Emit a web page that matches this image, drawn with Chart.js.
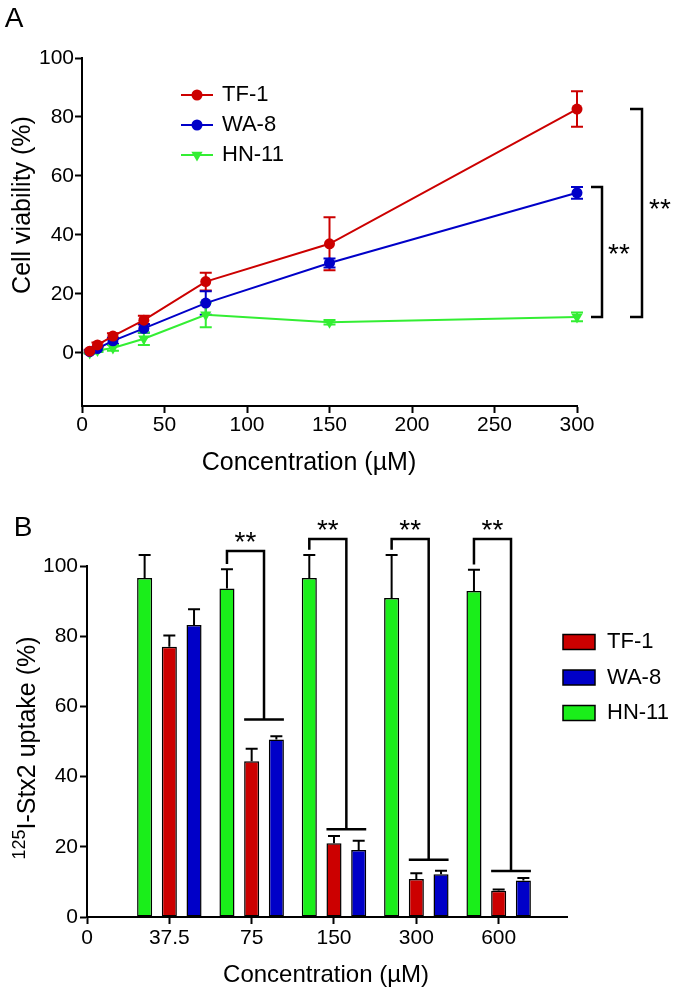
<!DOCTYPE html>
<html>
<head>
<meta charset="utf-8">
<script src="https://cdn.jsdelivr.net/npm/chart.js@4.4.0/dist/chart.umd.min.js"></script>
<style>
body{margin:0;background:#fff;}
#wrap{position:relative;width:675px;height:992px;}
.panel{position:absolute;left:0;width:675px;}
</style>
</head>
<body>
<div id="wrap">
	<div class="panel" style="top:0;height:480px"><canvas id="chartA" width="675" height="480"></canvas></div>
	<div class="panel" style="top:480px;height:512px"><canvas id="chartB" width="675" height="512"></canvas></div>
</div>
<script>
// panel A: cell viability vs concentration
var concA = [4.69, 9.375, 18.75, 37.5, 75, 150, 300];
var tf1A = [0.6, 2.7, 5.7, 11.1, 24.2, 37, 82.7];
var tf1AErr = [0.5, 0.8, 1, 1.5, 3, 9, 6];
var wa8A = [0.4, 1.5, 4.1, 8.3, 16.9, 30.5, 54.3];
var wa8AErr = [0.4, 0.6, 1, 1.5, 4, 1.5, 2];
var hn11A = [0, 0.8, 1.7, 4.8, 12.9, 10.4, 12.2];
var hn11AErr = [0.3, 0.5, 1, 2.1, 4.2, 0.8, 1.5];
var xTicksA = [0, 50, 100, 150, 200, 250, 300];
var yTicksA = [0, 20, 40, 60, 80, 100];

// panel B: 125I-Stx2 uptake, groups 37.5 .. 600
var concLabelsB = ['0', '37.5', '75', '150', '300', '600'];
var groupB = [1, 2, 3, 4, 5];
var hn11B = [96.6, 93.6, 96.6, 90.9, 92.9];
var hn11BErr = [6.5, 5.5, 6.5, 12.2, 6];
var tf1B = [77, 44.4, 21, 10.8, 7.5];
var tf1BErr = [3.2, 3.5, 2.1, 1.7, 0.3];
var wa8B = [83.2, 50.6, 19.1, 12.2, 10.4];
var wa8BErr = [4.5, 0.9, 2.6, 1, 0.7];
var yTicksB = [0, 20, 40, 60, 80, 100];
// significance brackets (groups 75..600): top of bracket and the bar over TF-1/WA-8
var sigTopB = [104.3, 107.7, 107.7, 107.7];
var sigLowB = [56.3, 25, 16.3, 13.1];

var FONT = "'Liberation Sans', Arial, Helvetica, sans-serif";
Chart.defaults.font.family = FONT;
Chart.defaults.color = '#000';

var red = '#cc0000', blue = '#0000c8', greenLine = '#33ee33', greenBar = '#1aee1a';

function pts(xs, ys) {
	return xs.map(function(x, i) { return {x: x, y: ys[i]}; });
}

var gridOpts = {display: true, drawOnChartArea: false, drawTicks: true, tickLength: 7, tickWidth: 2, tickColor: '#000'};
var borderOpts = {display: true, color: '#000', width: 2};

function rotText(ctx, txt, x, y) {
	ctx.save();
	ctx.translate(x, y);
	ctx.rotate(-Math.PI / 2);
	ctx.textAlign = 'center';
	ctx.textBaseline = 'middle';
	ctx.fillText(txt, 0, 0);
	ctx.restore();
}

function stars(ctx, x, y, size) {
	// asterisks sit high in the em box, so push the baseline down
	ctx.save();
	ctx.font = size + 'px ' + FONT;
	ctx.textAlign = 'center';
	ctx.textBaseline = 'alphabetic';
	ctx.fillStyle = '#000';
	ctx.fillText('**', x, y + size * 0.57);
	ctx.restore();
}

// ---------- panel A ----------
var errorBarsA = {
	id: 'errorBarsA',
	beforeDatasetsDraw: function(chart) {
		var ctx = chart.ctx, ys = chart.scales.y;
		chart.data.datasets.forEach(function(ds, i) {
			var meta = chart.getDatasetMeta(i);
			ctx.save();
			ctx.strokeStyle = ds.borderColor;
			ctx.lineWidth = 2;
			meta.data.forEach(function(pt, j) {
				var v = ds.data[j].y, e = ds.errors[j];
				var t = ys.getPixelForValue(v + e), b = ys.getPixelForValue(v - e);
				ctx.beginPath();
				ctx.moveTo(pt.x, t); ctx.lineTo(pt.x, b);
				ctx.moveTo(pt.x - 6, t); ctx.lineTo(pt.x + 6, t);
				ctx.moveTo(pt.x - 6, b); ctx.lineTo(pt.x + 6, b);
				ctx.stroke();
			});
			ctx.restore();
		});
	}
};

var annotA = {
	id: 'annotA',
	afterDraw: function(chart) {
		var ctx = chart.ctx, ca = chart.chartArea, xs = chart.scales.x, ys = chart.scales.y;
		ctx.save();
		ctx.fillStyle = '#000';
		ctx.font = '28px ' + FONT;
		ctx.textAlign = 'center';
		ctx.textBaseline = 'middle';
		ctx.fillText('A', 14, 19);
		ctx.font = '25px ' + FONT;
		rotText(ctx, 'Cell viability (%)', 23, 205);
		ctx.fillText('Concentration (\u00b5M)', 309, 463);

		// legend
		var lx = ca.left + 99, ly = ca.top + 37;
		chart.data.datasets.forEach(function(ds, i) {
			var y = ly + i * 30;
			ctx.strokeStyle = ds.borderColor;
			ctx.lineWidth = 2;
			ctx.beginPath(); ctx.moveTo(lx, y); ctx.lineTo(lx + 32, y); ctx.stroke();
			ctx.fillStyle = ds.pointBackgroundColor;
			Chart.helpers.drawPoint(ctx, {pointStyle: ds.pointStyle, rotation: ds.pointRotation || 0, radius: ds.pointRadius, borderWidth: 0}, lx + 16, y);
			ctx.fillStyle = '#000';
			ctx.font = '22px ' + FONT;
			ctx.textAlign = 'left';
			ctx.fillText(ds.label, lx + 41, y);
		});

		// brackets at 300 uM
		var x300 = xs.getPixelForValue(concA[6]);
		ctx.strokeStyle = '#000';
		ctx.lineWidth = 2.5;
		var b1x = x300 + 25, b1t = ys.getPixelForValue(wa8A[6] + wa8AErr[6]), b1b = ys.getPixelForValue(hn11A[6]);
		ctx.beginPath();
		ctx.moveTo(b1x - 11, b1t); ctx.lineTo(b1x, b1t); ctx.lineTo(b1x, b1b); ctx.lineTo(b1x - 11, b1b);
		ctx.stroke();
		stars(ctx, b1x + 17, (b1t + b1b) / 2 - 5, 28);
		var b2x = x300 + 65, b2t = ys.getPixelForValue(tf1A[6]), b2b = ys.getPixelForValue(hn11A[6]);
		ctx.beginPath();
		ctx.moveTo(b2x - 12, b2t); ctx.lineTo(b2x, b2t); ctx.lineTo(b2x, b2b); ctx.lineTo(b2x - 12, b2b);
		ctx.stroke();
		stars(ctx, b2x + 18, (b2t + b2b) / 2 - 11, 28);
		ctx.restore();
	}
};

function lineSet(label, xs, ys, errs, color, style) {
	return {
		label: label,
		data: pts(xs, ys),
		errors: errs,
		borderColor: color,
		backgroundColor: color,
		pointBackgroundColor: color,
		pointBorderColor: color,
		pointBorderWidth: 0,
		pointStyle: style,
		pointRotation: style == 'triangle' ? 180 : 0,
		pointRadius: style == 'triangle' ? 6.5 : 5.5,
		borderWidth: 2,
		tension: 0,
		clip: false
	};
}

new Chart(document.getElementById('chartA'), {
	type: 'line',
	data: {
		datasets: [
			lineSet('TF-1', concA, tf1A, tf1AErr, red, 'circle'),
			lineSet('WA-8', concA, wa8A, wa8AErr, blue, 'circle'),
			lineSet('HN-11', concA, hn11A, hn11AErr, greenLine, 'triangle')
		]
	},
	options: {
		responsive: false,
		animation: false,
		layout: {padding: {top: 58, right: 98, left: 0, bottom: 0}},
		plugins: {legend: {display: false}, tooltip: {enabled: false}},
		scales: {
			x: {
				type: 'linear', min: 0, max: 300,
				afterBuildTicks: function(s) { s.ticks = xTicksA.map(function(v) { return {value: v}; }); },
				afterFit: function(s) { s.height = 74; },
				ticks: {font: {size: 21}, padding: 0, maxRotation: 0, autoSkip: false},
				grid: gridOpts, border: borderOpts
			},
			y: {
				min: -18, max: 100,
				afterBuildTicks: function(s) { s.ticks = yTicksA.map(function(v) { return {value: v}; }); },
				afterFit: function(s) { s.width = 82; },
				ticks: {font: {size: 21}, padding: 1},
				grid: gridOpts, border: borderOpts
			}
		}
	},
	plugins: [errorBarsA, annotA]
});

// ---------- panel B ----------
var errorBarsB = {
	id: 'errorBarsB',
	afterDatasetsDraw: function(chart) {
		var ctx = chart.ctx, ys = chart.scales.y;
		ctx.save();
		ctx.strokeStyle = '#000';
		ctx.lineWidth = 2;
		chart.data.datasets.forEach(function(ds, i) {
			chart.getDatasetMeta(i).data.forEach(function(bar, j) {
				var t = ys.getPixelForValue(ds.data[j].y + ds.errors[j]);
				ctx.beginPath();
				ctx.moveTo(bar.x, bar.y); ctx.lineTo(bar.x, t);
				ctx.moveTo(bar.x - 6, t); ctx.lineTo(bar.x + 6, t);
				ctx.stroke();
			});
		});
		ctx.restore();
	}
};

var annotB = {
	id: 'annotB',
	afterDraw: function(chart) {
		var ctx = chart.ctx, ca = chart.chartArea, ys = chart.scales.y;
		ctx.save();
		ctx.fillStyle = '#000';
		ctx.textAlign = 'center';
		ctx.textBaseline = 'middle';
		ctx.font = '28px ' + FONT;
		ctx.fillText('B', 23, 48);
		ctx.font = '24px ' + FONT;
		ctx.fillText('Concentration (\u00b5M)', 326, 495);

		// y title with superscript 125
		ctx.save();
		ctx.translate(28, 268);
		ctx.rotate(-Math.PI / 2);
		ctx.textBaseline = 'middle';
		ctx.textAlign = 'left';
		ctx.font = '18px ' + FONT;
		var supW = ctx.measureText('125').width;
		ctx.font = '25px ' + FONT;
		var mainTxt = 'I-Stx2 uptake (%)';
		var mainW = ctx.measureText(mainTxt).width;
		var x0 = -(supW + mainW) / 2;
		ctx.font = '18px ' + FONT;
		ctx.fillText('125', x0, -8);
		ctx.font = '25px ' + FONT;
		ctx.fillText(mainTxt, x0 + supW, 0);
		ctx.restore();

		// legend, TF-1 / WA-8 / HN-11
		var order = ['TF-1', 'WA-8', 'HN-11'];
		var lx = ca.right - 4, ly = ca.top + 76;
		order.forEach(function(name, k) {
			var ds = chart.data.datasets.filter(function(d) { return d.label == name; })[0];
			var y = ly + k * 35.5;
			ctx.fillStyle = ds.backgroundColor;
			ctx.fillRect(lx, y - 7.5, 32, 15);
			ctx.strokeStyle = '#000';
			ctx.lineWidth = 1.5;
			ctx.strokeRect(lx, y - 7.5, 32, 15);
			ctx.fillStyle = '#000';
			ctx.font = '22px ' + FONT;
			ctx.textAlign = 'left';
			ctx.fillText(name, lx + 44, y);
		});

		// significance brackets: HN-11 vs TF-1/WA-8
		var mG = chart.getDatasetMeta(0), mR = chart.getDatasetMeta(1), mB = chart.getDatasetMeta(2);
		ctx.strokeStyle = '#000';
		ctx.lineWidth = 2.5;
		sigTopB.forEach(function(top, k) {
			var g = k + 1;
			var gb = mG.data[g], rb = mR.data[g], bb = mB.data[g];
			var lxp = gb.x, rxp = (rb.x + bb.x) / 2;
			var ty = ys.getPixelForValue(top);
			var legY = ys.getPixelForValue(hn11B[g] + hn11BErr[g] + 1.5);
			var lowY = ys.getPixelForValue(sigLowB[k]);
			ctx.beginPath();
			ctx.moveTo(lxp, legY); ctx.lineTo(lxp, ty); ctx.lineTo(rxp, ty); ctx.lineTo(rxp, lowY);
			ctx.moveTo(rb.x - rb.width / 2, lowY); ctx.lineTo(bb.x + bb.width / 2, lowY);
			ctx.stroke();
			stars(ctx, (lxp + rxp) / 2, ty - 16, 28);
		});
		ctx.restore();
	}
};

function barSet(label, ys, errs, color) {
	return {
		label: label,
		data: pts(groupB, ys),
		errors: errs,
		backgroundColor: color,
		borderColor: '#000',
		borderWidth: 1.5,
		borderSkipped: false,
		categoryPercentage: 0.9,
		barPercentage: 0.61
	};
}

new Chart(document.getElementById('chartB'), {
	type: 'bar',
	data: {
		datasets: [
			barSet('HN-11', hn11B, hn11BErr, greenBar),
			barSet('TF-1', tf1B, tf1BErr, red),
			barSet('WA-8', wa8B, wa8BErr, blue)
		]
	},
	options: {
		responsive: false,
		animation: false,
		layout: {padding: {top: 86, right: 108, left: 0, bottom: 0}},
		plugins: {legend: {display: false}, tooltip: {enabled: false}},
		scales: {
			x: {
				type: 'linear', min: 0, max: 5.83, offset: false,
				afterBuildTicks: function(s) { s.ticks = concLabelsB.map(function(l, i) { return {value: i}; }); },
				afterFit: function(s) { s.height = 75; },
				ticks: {font: {size: 21}, padding: 2, maxRotation: 0, autoSkip: false,
					callback: function(v) { return concLabelsB[v]; }},
				grid: Object.assign({}, gridOpts, {offset: false}), border: borderOpts
			},
			y: {
				min: 0, max: 100,
				afterBuildTicks: function(s) { s.ticks = yTicksB.map(function(v) { return {value: v}; }); },
				afterFit: function(s) { s.width = 87; },
				ticks: {font: {size: 21}, padding: 2},
				grid: gridOpts, border: borderOpts
			}
		}
	},
	plugins: [errorBarsB, annotB]
});
</script>
</body>
</html>
